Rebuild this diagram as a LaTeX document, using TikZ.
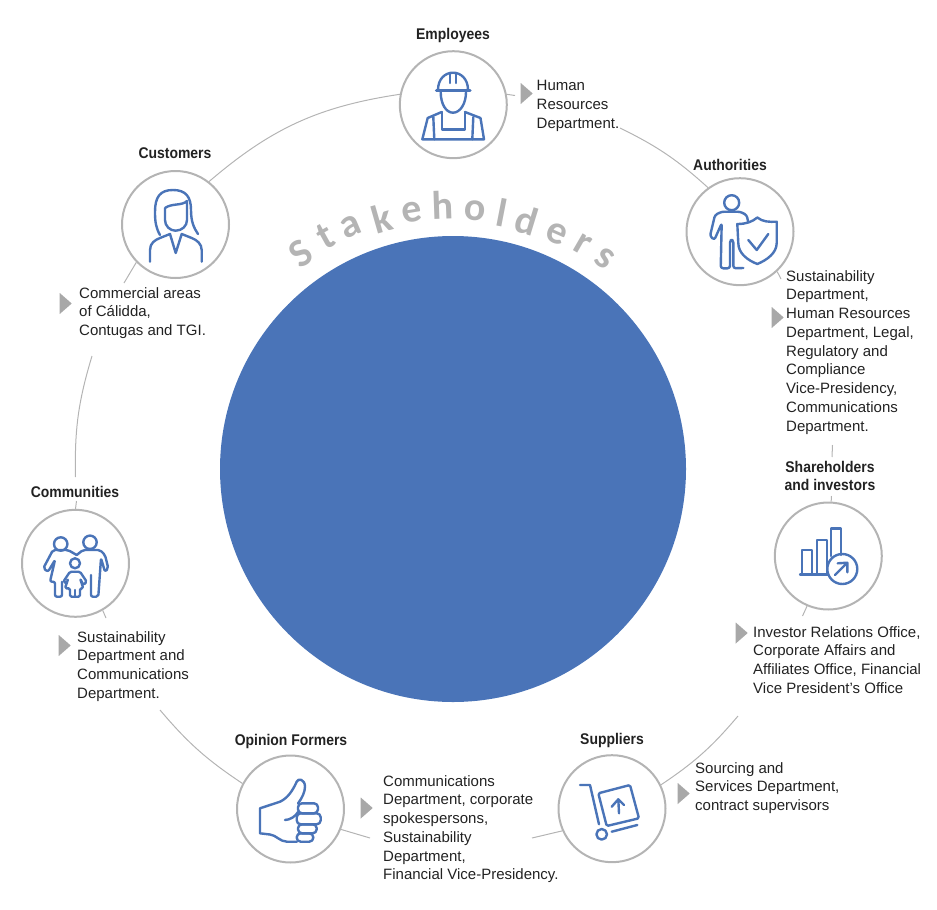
\documentclass[tikz,border=0pt]{standalone}
\usepackage{fontspec}
\setmainfont{Liberation Sans}
\newfontfamily\headfont{Liberation Sans}[FakeStretch=0.9]
\newfontfamily\ringfont{Carlito}
\usetikzlibrary{shapes.geometric}
\definecolor{hubblue}{HTML}{4A74B8}
\definecolor{ringgray}{HTML}{B4B4B4}
\definecolor{markgray}{HTML}{A8A8A8}
\definecolor{textgray}{HTML}{222222}

\begin{document}
\begin{tikzpicture}[
    x=1pt, y=-1pt,
    hub/.style={circle, fill=hubblue, minimum size=466pt, inner sep=0pt},
    party/.style={circle, draw=ringgray, line width=2pt, fill=white,
        minimum size=107pt, inner sep=0pt},
    ring/.style={draw=ringgray, line width=1pt},
    icon/.style={draw=hubblue, line width=2.4pt, line join=round, line cap=round},
    pointer/.style={isosceles triangle, isosceles triangle stretches, fill=markgray,
        minimum width=21pt, minimum height=12pt, inner sep=0pt},
    head/.style={font=\headfont\bfseries\fontsize{15.5}{18}\selectfont, text=textgray,
        align=center, inner sep=0pt},
    duty/.style={font=\fontsize{15}{18.75}\selectfont, text=textgray,
        align=left, anchor=north west, inner sep=0pt},
    letter/.style={font=\ringfont\bfseries\fontsize{40}{40}\selectfont, text=ringgray, inner sep=0pt}
]
    \useasboundingbox (0,0) rectangle (937,910);
    \node[hub] (hub) at (453,469) {};
    \foreach \ch/\px/\py/\ang [count=\i] in {S/301/253/35, t/326/236/29, a/351/227/23, k/382/218/16,
        e/412/212/9, h/443/205/2, o/475/211/-5, l/502/213/-11, d/527/220/-17, e/557/234/-24,
        r/583/244/-30, s/605/258/-36}
        \node[letter, rotate=\ang] (s\i) at (\px,\py) {\ch};

    \node[party] (employees) at (453.3,104.7) {};
    \node[party] (customers) at (175.5,224.5) {};
    \node[party] (authorities) at (740,231.7) {};
    \node[party] (shareholders) at (828.3,556) {};
    \node[party] (suppliers) at (612,808.7) {};
    \node[party] (opinion) at (290.5,809) {};
    \node[party] (communities) at (75.5,563.3) {};

    \node[head] (employeeshead) at (453,35.5) {Employees};
    \node[head] (customershead) at (175,153.5) {Customers};
    \node[head] (authoritieshead) at (730,165) {Authorities};
    \node[head] (shareholdershead) at (830,476) {Shareholders\\and investors};
    \node[head] (supplierhead) at (612,740.5) {Suppliers};
    \node[head] (opinionhead) at (291,741.5) {Opinion Formers};
    \node[head] (communitieshead) at (75,492) {Communities};

    \node[duty] (employeesduty) at (536.5,80) {Human\\Resources\\Department.};
    \node[duty] (customersduty) at (79,287) {Commercial areas\\of Cálidda,\\Contugas and TGI.};
    \node[duty] (authoritiesduty) at (786,270) {Sustainability\\Department,\\Human Resources\\Department, Legal,\\Regulatory and\\Compliance\\Vice-Presidency,\\Communications\\Department.};
    \node[duty] (shareholdersduty) at (753,626) {Investor Relations Office,\\Corporate Affairs and\\Affiliates Office, Financial\\Vice President's Office};
    \node[duty] (suppliersduty) at (695,762) {Sourcing and\\Services Department,\\contract supervisors};
    \node[duty] (opinionduty) at (383,775) {Communications\\Department, corporate\\spokespersons,\\Sustainability\\Department,\\Financial Vice-Presidency.};
    \node[duty] (communitiesduty) at (77,631) {Sustainability\\Department and\\Communications\\Department.};

    \node[pointer] (employeesmark) at (525.5,93.5) {};
    \node[pointer] (customersmark) at (64.5,303.5) {};
    \node[pointer] (authoritiesmark) at (776.5,317.5) {};
    \node[pointer] (shareholdersmark) at (740.5,633) {};
    \node[pointer] (suppliersmark) at (682.5,793.5) {};
    \node[pointer] (opinionmark) at (365.5,808) {};
    \node[pointer] (communitiesmark) at (63.5,645.5) {};

    \coordinate (humanend) at (620,128);
    \coordinate (employeesstub) at (515,95.5);
    \coordinate (customersstub) at (124,283);
    \coordinate (communitiesfar) at (92,356);
    \coordinate (communitiesnear) at (75.5,477);
    \coordinate (communitiestop) at (76.5,501);
    \coordinate (communitiesstub) at (106,618);
    \coordinate (opinionfar) at (160,710);
    \coordinate (opinionstub) at (370,838);
    \coordinate (suppliersstub) at (532,838);
    \coordinate (suppliersfar) at (738,716);
    \coordinate (shareholdersstub) at (802.5,616);
    \coordinate (shareholderstop) at (831.5,496);
    \coordinate (authoritiesstub) at (781,279);
    \coordinate (labelgapa) at (832.5,445);
    \coordinate (labelgapb) at (832,457);

    \draw[ring] (customers.52) to[bend left=16] (employees.169);
    \draw[ring] (employees.11) -- (employeesstub);
    \draw[ring] (humanend) to[bend left=8] (authorities.126);
    \draw[ring] (authorities.-47) -- (authoritiesstub);
    \draw[ring] (labelgapa) -- (labelgapb);
    \draw[ring] (shareholderstop) -- (shareholders.87);
    \draw[ring] (shareholders.-113) -- (shareholdersstub);
    \draw[ring] (suppliersfar) to[bend left=8] (suppliers.26);
    \draw[ring] (suppliers.204) -- (suppliersstub);
    \draw[ring] (opinion.-22) -- (opinionstub);
    \draw[ring] (opinion.152) to[bend left=8] (opinionfar);
    \draw[ring] (communities.-60) -- (communitiesstub);
    \draw[ring] (communitiestop) -- (communities.90);
    \draw[ring] (communitiesnear) to[bend left=9] (communitiesfar);
    \draw[ring] (customers.224) -- (customersstub);

    \draw[icon] (438,90) .. controls (438,79) and (445,72.7) .. (453,72.7) .. controls (461,72.7) and (468,79) .. (468,90);
    \draw[icon, line width=3.2pt] (436.5,90.7) -- (470,90.7);
    \draw[icon] (450,73) -- (450,83) (456,73) -- (456,83);
    \draw[icon] (440.7,92) .. controls (440.7,104) and (446,112.7) .. (453,112.7) .. controls (460,112.7) and (466,104) .. (466,92);
    \draw[icon] (441.7,112) -- (427.7,118) -- (422.3,139.3) -- (484,139.3) -- (480.5,118) -- (465,112);
    \draw[icon] (441.7,112) -- (441.7,129.3) -- (465,129.3) -- (465,112);
    \draw[icon] (433.3,117) -- (434.3,139.3) (473.3,117) -- (472.3,139.3);

    \draw[icon] (160,235) .. controls (156,228) and (155,222) .. (155,212) .. controls (155,197) and (160,190) .. (173,190) .. controls (186,190) and (191,197) .. (191,210) .. controls (191,222) and (194,228) .. (198,234);
    \draw[icon] (165,208) -- (165,220) .. controls (165,226) and (170,230.7) .. (175.5,230.7) .. controls (182,230.7) and (187,226) .. (187,220) -- (187,201) .. controls (182,206) and (172,203) .. (165,208);
    \draw[icon] (150,261.7) -- (150,250) .. controls (150,243) and (155,240) .. (160,238) -- (170,234) -- (175.7,253) -- (181.7,234) -- (191.7,238) .. controls (197,240) and (201.7,244) .. (201.7,250) -- (201.7,261.7);

    \draw[icon] (731.7,202.7) circle[radius=7.5pt];
    \draw[icon, rounded corners=2.5pt] (748.3,222.7) -- (746.7,215) -- (740,211.7) -- (721.7,211.7) -- (715,215) -- (710,236) -- (714.3,240) -- (721.7,223.3) -- (720.7,268.3) -- (730,268.3) -- (730,240) -- (733.3,240) -- (733.3,268.3) -- (743.3,268);
    \draw[icon, fill=white] (737.3,224) .. controls (746,224) and (752,222) .. (757.3,217.5) .. controls (763,222) and (769,222) .. (776.7,221.7) -- (776.7,243) .. controls (776.7,253) and (767,260) .. (757.3,264) .. controls (747,260) and (738.3,253) .. (738.3,243) -- cycle;
    \draw[icon] (748.3,240) -- (756.7,250) -- (768.3,234);

    \draw[icon] (801.7,574.3) -- (801.7,550) -- (811.7,550) -- (811.7,574.3);
    \draw[icon] (816.7,574.3) -- (816.7,540) -- (826.7,540) -- (826.7,574.3);
    \draw[icon] (831,556) -- (831,528.3) -- (841,528.3) -- (841,555);
    \draw[icon] (800,574.3) -- (828,574.3);
    \draw[icon] (842.3,569) circle[radius=15pt];
    \draw[icon] (835,575) -- (847.3,562.7) (837.7,563.3) -- (847.3,562.7) -- (847.3,572.3);

    \draw[icon] (580,785) -- (590,785) -- (599,824.3);
    \draw[icon] (601.7,834.3) circle[radius=5.3pt];
    \draw[icon] (611.7,831.7) -- (637.3,825);
    \draw[icon, rounded corners=1.5pt] (598.3,793.3) -- (630,785) -- (639,818.3) -- (606.7,826) -- cycle;
    \draw[icon] (619,813.3) -- (618.3,799.3) (611.7,806.7) -- (618.3,799.3) -- (624,805);

    \draw[icon] (297,841.7) -- (287,841.7) .. controls (280,841.7) and (276,835) .. (270,834.5) -- (260,833.3) -- (260,808.3) -- (280,801.7) .. controls (288,798) and (293,790) .. (296.7,781.7) .. controls (298,778) and (305,779) .. (305,786.7) .. controls (305,792) and (302,798) .. (298,803.5);
    \draw[icon] (285,820) .. controls (290,820) and (296,816) .. (298,812);
    \draw[icon, rounded corners=4pt] (298,803.3) rectangle (318,813.3);
    \draw[icon, rounded corners=4pt] (296.7,813.3) rectangle (320.7,824.3);
    \draw[icon, rounded corners=4pt] (298,824.3) rectangle (316.7,833.3);
    \draw[icon, rounded corners=4pt] (296.7,833.3) rectangle (313.3,841.7);

    \draw[icon] (90,542.3) circle[radius=6.7pt];
    \draw[icon] (60.7,544) circle[radius=6.7pt];
    \draw[icon] (75,563.3) circle[radius=5pt];
    \draw[icon, rounded corners=2pt] (76.7,555) -- (83,550) -- (100,550) -- (105,555) -- (108.3,568.3) -- (105,571.7) -- (101,558.3) -- (98.3,596.7) -- (91,596.7) -- (91,575);
    \draw[icon, rounded corners=2pt] (76.7,555) -- (68,550) -- (53,550) -- (43.3,568.3) -- (48,571.7) -- (55,560) -- (50,581.7) -- (55,581.7) -- (55,596.7) -- (62,596.7) -- (62,581.7);
    \draw[icon, rounded corners=1.5pt] (70,571.7) -- (80,571.7) -- (86.7,581.7) -- (83.3,585) -- (80,578.3) -- (83.3,588.3) -- (80,588.3) -- (80,596.7) -- (70,596.7) -- (70,588.3) -- (65,588.3) -- (68.3,578.3) -- (66.7,583.3) -- (63.3,581.7) -- cycle;
    \draw[icon] (75,590) -- (75,596.7);
\end{tikzpicture}
\end{document}
